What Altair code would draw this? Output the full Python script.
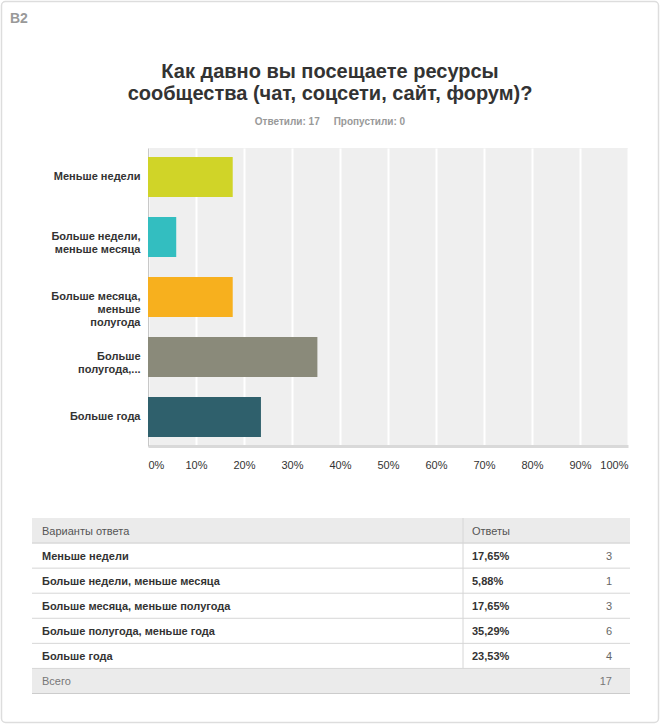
import altair as alt
import pandas as pd

FONT = "Liberation Sans"

question_id = "B2"
title_lines = ["Как давно вы посещаете ресурсы", "сообщества (чат, соцсети, сайт, форум)?"]
answered = 17
skipped = 0
categories = [
    "Меньше недели",
    "Больше недели, меньше месяца",
    "Больше месяца, меньше полугода",
    "Больше полугода, меньше года",
    "Больше года",
]
axis_labels = [
    "Меньше недели",
    "Больше недели,|меньше месяца",
    "Больше месяца,|меньше|полугода",
    "Больше|полугода,...",
    "Больше года",
]
percents = [17.65, 5.88, 17.65, 35.29, 23.53]
counts = [3, 1, 3, 6, 4]
colors = ["#d0d428", "#33bec0", "#f7b01e", "#8a8a7a", "#2f606c"]
x_ticks = [0, 10, 20, 30, 40, 50, 60, 70, 80, 90, 100]
header_labels = ["Варианты ответа", "Ответы"]
total_label = "Всего"
total = 17

subtitle = f"Ответили: {answered}\u00a0\u00a0\u00a0\u00a0 Пропустили: {skipped}"
pct_strs = [f"{p:.2f}%".replace(".", ",") for p in percents]

bars_df = pd.DataFrame({"label": axis_labels, "pct": percents})

bars = alt.Chart(bars_df).mark_bar().encode(
    x=alt.X(
        "pct:Q",
        scale=alt.Scale(domain=[0, 100], nice=False),
        axis=alt.Axis(
            values=x_ticks, labelExpr="datum.value + '%'", title=None,
            grid=True, gridColor="white", gridWidth=2,
            domainColor="#d9d9d9", domainWidth=3, ticks=False, tickSize=0,
            labelPadding=13, labelFontSize=11, labelColor="#333", labelFont=FONT,
        ),
    ),
    y=alt.Y(
        "label:N", sort=axis_labels,
        scale=alt.Scale(paddingInner=1 / 3, paddingOuter=0.15),
        axis=alt.Axis(
            title=None, ticks=False, tickSize=0, domainColor="#c8c8c8", domainWidth=1,
            labelFontWeight="bold", labelFontSize=11, labelColor="#333", labelFont=FONT,
            labelPadding=8, labelExpr="split(datum.label, '|')", labelLineHeight=13,
            labelLimit=200, grid=False,
        ),
    ),
    color=alt.Color("label:N", scale=alt.Scale(domain=axis_labels, range=colors), legend=None),
)

# card frame, question id, title and subtitle
one = pd.DataFrame({"t": [question_id], "s": [subtitle]})
frame = alt.Chart(one).mark_rect(filled=False, stroke="#dddddd", strokeWidth=1.5, cornerRadius=4).encode(
    x=alt.value(-146.5), x2=alt.value(510.5), y=alt.value(-146.5), y2=alt.value(574.5)
)
qid = alt.Chart(one).mark_text(align="left", baseline="middle", font=FONT, fontSize=14,
                                fontWeight="bold", color="#999999").encode(
    x=alt.value(-138), y=alt.value(-129.5), text="t:N"
)
title = alt.Chart(one).mark_text(
    text=title_lines, align="center", baseline="middle", font=FONT, fontSize=20,
    fontWeight="bold", color="#333333", lineHeight=22,
).encode(x=alt.value(182), y=alt.value(-76))
sub = alt.Chart(one).mark_text(align="center", baseline="middle", font=FONT, fontSize=10,
                                fontWeight="bold", color="#999999").encode(
    x=alt.value(182), y=alt.value(-26.5), text="s:N"
)

# table
tscale = alt.Scale(domain=[0, 7], range=[370, 545.5], nice=False, zero=False)
L, R, DIV = -116, 482, 315


def ty(field):
    return alt.Y(field, scale=tscale, axis=None)


bg_df = pd.DataFrame({"r0": [0, 6], "r1": [1, 7]})
bg = alt.Chart(bg_df).mark_rect(color="#ebebeb").encode(
    x=alt.value(L), x2=alt.value(R), y=ty("r0:Q"), y2="r1:Q"
)
dark_lines = alt.Chart(pd.DataFrame({"b": [1, 7]})).mark_rule(color="#cccccc", strokeWidth=1).encode(
    x=alt.value(L), x2=alt.value(R), y=ty("b:Q")
)
light_lines = alt.Chart(pd.DataFrame({"b": [2, 3, 4, 5, 6]})).mark_rule(color="#d6d6d6", strokeWidth=1).encode(
    x=alt.value(L), x2=alt.value(R), y=ty("b:Q")
)
divider = alt.Chart(pd.DataFrame({"r0": [0], "r1": [6]})).mark_rule(color="#d6d6d6", strokeWidth=1).encode(
    x=alt.value(DIV), y=ty("r0:Q"), y2="r1:Q"
)

head_df = pd.DataFrame({"yc": [0.5], "a": [header_labels[0]], "b": [header_labels[1]]})
rows_df = pd.DataFrame({"yc": [i + 1.5 for i in range(len(categories))], "cat": categories,
                        "pct": pct_strs, "n": counts})
foot_df = pd.DataFrame({"yc": [6.5], "a": [total_label], "n": [total]})

txt = dict(baseline="middle", font=FONT, fontSize=11, dy=1)
head_a = alt.Chart(head_df).mark_text(align="left", color="#555555", **txt).encode(
    x=alt.value(-106), y=ty("yc:Q"), text="a:N")
head_b = alt.Chart(head_df).mark_text(align="left", color="#555555", **txt).encode(
    x=alt.value(324), y=ty("yc:Q"), text="b:N")
row_cat = alt.Chart(rows_df).mark_text(align="left", color="#333333", fontWeight="bold", **txt).encode(
    x=alt.value(-106), y=ty("yc:Q"), text="cat:N")
row_pct = alt.Chart(rows_df).mark_text(align="left", color="#333333", fontWeight="bold", **txt).encode(
    x=alt.value(324), y=ty("yc:Q"), text="pct:N")
row_n = alt.Chart(rows_df).mark_text(align="right", color="#666666", **txt).encode(
    x=alt.value(464), y=ty("yc:Q"), text="n:Q")
foot_a = alt.Chart(foot_df).mark_text(align="left", color="#777777", **txt).encode(
    x=alt.value(-106), y=ty("yc:Q"), text="a:N")
foot_n = alt.Chart(foot_df).mark_text(align="right", color="#777777", **txt).encode(
    x=alt.value(464), y=ty("yc:Q"), text="n:Q")

chart = alt.layer(
    frame, qid, title, sub, bars, bg, light_lines, dark_lines, divider,
    head_a, head_b, row_cat, row_pct, row_n, foot_a, foot_n,
).resolve_scale(y="independent").properties(
    width=480,
    height=298,
    padding={"left": 148, "top": 148, "right": 32, "bottom": 280},
    autosize=alt.AutoSizeParams(type="none"),
    background="white",
).configure_view(fill="#efefef", stroke=None)

chart.save("out.html", embed_options={"renderer": "svg", "actions": False})
